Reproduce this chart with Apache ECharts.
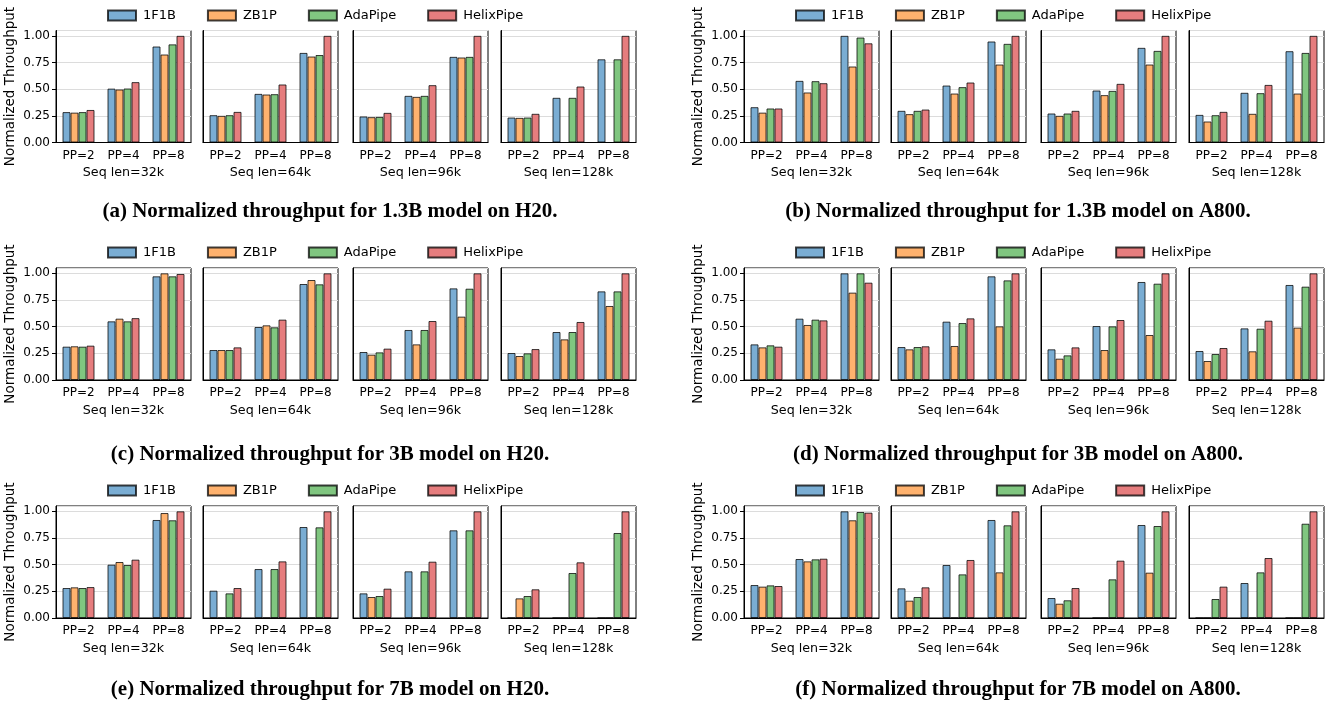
<!DOCTYPE html>
<html>
<head>
<meta charset="utf-8">
<script src="https://cdn.jsdelivr.net/npm/echarts@6/dist/echarts.min.js"></script>
<style>
  html, body { margin: 0; padding: 0; background: #fff; }
  #chart { width: 1339px; height: 709px; }
</style>
</head>
<body>
<div id="chart"></div>
<script>
const categories = ['PP=2', 'PP=4', 'PP=8']
const seqLens = ['Seq len=32k', 'Seq len=64k', 'Seq len=96k', 'Seq len=128k']
const methods = ['1F1B', 'ZB1P', 'AdaPipe', 'HelixPipe']
const yTicks = [0, 0.25, 0.5, 0.75, 1.0]
const captions = [
  '(a) Normalized throughput for 1.3B model on H20.',
  '(b) Normalized throughput for 1.3B model on A800.',
  '(c) Normalized throughput for 3B model on H20.',
  '(d) Normalized throughput for 3B model on A800.',
  '(e) Normalized throughput for 7B model on H20.',
  '(f) Normalized throughput for 7B model on A800.'
]

// each panel: [seq len][method][PP]
const h20_1_3b = [
  [[0.285, 0.505, 0.90], [0.28, 0.497, 0.825], [0.285, 0.506, 0.92], [0.305, 0.566, 1.0]],
  [[0.256, 0.456, 0.84], [0.25, 0.45, 0.806], [0.256, 0.453, 0.82], [0.287, 0.544, 1.0]],
  [[0.244, 0.4375, 0.803], [0.2375, 0.428, 0.797], [0.24, 0.4375, 0.803], [0.278, 0.5375, 1.0]],
  [[0.234, 0.419, 0.78], [0.231, 0, 0], [0.234, 0.419, 0.78], [0.269, 0.525, 1.0]]
]
const a800_1_3b = [
  [[0.331, 0.578, 1.0], [0.28, 0.469, 0.7125], [0.319, 0.575, 0.984], [0.319, 0.556, 0.93]],
  [[0.297, 0.534, 0.947], [0.266, 0.459, 0.731], [0.297, 0.519, 0.925], [0.309, 0.5625, 1.0]],
  [[0.272, 0.4875, 0.8875], [0.25, 0.444, 0.731], [0.272, 0.484, 0.859], [0.297, 0.55, 1.0]],
  [[0.259, 0.466, 0.856], [0.197, 0.269, 0.459], [0.256, 0.4625, 0.84], [0.2875, 0.54, 1.0]]
]
const h20_3b = [
  [[0.3125, 0.55, 0.972], [0.316, 0.575, 1.0], [0.3125, 0.55, 0.972], [0.322, 0.58, 0.994]],
  [[0.281, 0.497, 0.9], [0.281, 0.5125, 0.9375], [0.281, 0.494, 0.897], [0.306, 0.566, 1.0]],
  [[0.2625, 0.469, 0.859], [0.2375, 0.334, 0.594], [0.259, 0.469, 0.856], [0.294, 0.553, 1.0]],
  [[0.253, 0.45, 0.831], [0.225, 0.381, 0.694], [0.25, 0.45, 0.831], [0.29, 0.544, 1.0]]
]
const a800_3b = [
  [[0.334, 0.575, 1.0], [0.306, 0.516, 0.819], [0.325, 0.566, 1.0], [0.3125, 0.559, 0.9125]],
  [[0.309, 0.547, 0.972], [0.2875, 0.319, 0.503], [0.309, 0.534, 0.934], [0.316, 0.578, 1.0]],
  [[0.2875, 0.506, 0.919], [0.2, 0.281, 0.422], [0.231, 0.503, 0.903], [0.306, 0.5625, 1.0]],
  [[0.272, 0.484, 0.891], [0.178, 0.269, 0.491], [0.244, 0.481, 0.875], [0.3, 0.556, 1.0]]
]
const h20_7b = [
  [[0.281, 0.5, 0.919], [0.2875, 0.525, 0.984], [0.281, 0.497, 0.916], [0.29, 0.547, 1.0]],
  [[0.256, 0.459, 0.853], [0, 0, 0], [0.231, 0.459, 0.85], [0.281, 0.531, 1.0]],
  [[0.231, 0.4375, 0.822], [0.197, 0, 0], [0.206, 0.4375, 0.822], [0.275, 0.528, 1.0]],
  [[0, 0, 0], [0.184, 0, 0], [0.206, 0.422, 0.797], [0.269, 0.522, 1.0]]
]
const a800_7b = [
  [[0.309, 0.553, 1.0], [0.294, 0.531, 0.916], [0.306, 0.55, 0.994], [0.3, 0.556, 0.9875]],
  [[0.278, 0.497, 0.919], [0.1625, 0, 0.428], [0.197, 0.409, 0.869], [0.2875, 0.544, 1.0]],
  [[0.1875, 0, 0.872], [0.134, 0, 0.425], [0.166, 0.3625, 0.8625], [0.281, 0.5375, 1.0]],
  [[0, 0.328, 0], [0, 0, 0], [0.178, 0.428, 0.884], [0.294, 0.5625, 1.0]]
]
const panels = [h20_1_3b, a800_1_3b, h20_3b, a800_3b, h20_7b, a800_7b]

const colors = ['#7aadd3', '#ffb26e', '#80c680', '#e67d7e']
const panelX = [0, 688]
const subLeft = [56, 203, 353, 501]
const subWidth = 135
const rowTop = [30.5, 268, 506]
const subHeight = 112
const legendY = [9, 246, 484]
const captionY = [212, 455, 690]

const chart = echarts.init(document.getElementById('chart'))

const grid = []
const xAxis = []
const yAxis = []
const series = []
const legend = []
const graphic = []

panels.forEach((panel, p) => {
  const col = p % 2
  const row = Math.floor(p / 2)
  const ox = panelX[col]
  legend.push({
    data: methods,
    icon: 'rect',
    left: ox + 107,
    top: legendY[row],
    padding: 0,
    itemWidth: 28,
    itemHeight: 10,
    itemGap: 31,
    textStyle: { fontFamily: 'DejaVu Sans', fontSize: 13, color: '#000', padding: [0, 0, 0, 2] }
  })
  graphic.push({
    type: 'text',
    x: ox + 330,
    y: captionY[row],
    style: {
      text: captions[p],
      font: 'bold 21px "Liberation Serif"',
      fill: '#000',
      align: 'center',
      verticalAlign: 'middle'
    }
  })
  panel.forEach((seq, s) => {
    const gi = grid.length
    grid.push({
      left: ox + subLeft[s],
      top: rowTop[row],
      width: subWidth,
      height: subHeight,
      show: true,
      borderColor: '#000',
      borderWidth: 1
    })
    xAxis.push({
      type: 'category',
      gridIndex: gi,
      data: categories,
      name: seqLens[s],
      nameLocation: 'middle',
      nameGap: 24,
      nameTextStyle: { fontFamily: 'DejaVu Sans', fontSize: 12.7, color: '#000' },
      axisLine: { lineStyle: { color: '#000' } },
      axisTick: { alignWithLabel: true, length: 4, lineStyle: { color: '#000' } },
      axisLabel: { fontFamily: 'DejaVu Sans', fontSize: 12, color: '#000', margin: 7 }
    })
    const first = s === 0
    yAxis.push({
      type: 'value',
      gridIndex: gi,
      min: 0,
      max: 1.05,
      interval: 0.25,
      name: first ? 'Normalized Throughput' : '',
      nameLocation: 'middle',
      nameGap: 39,
      nameTextStyle: { fontFamily: 'DejaVu Sans', fontSize: 13.5, color: '#000' },
      axisLine: { show: true, lineStyle: { color: '#000' } },
      axisTick: { show: first, length: 4, lineStyle: { color: '#000' } },
      axisLabel: {
        show: first,
        showMaxLabel: false,
        fontFamily: 'DejaVu Sans',
        fontSize: 12,
        color: '#000',
        margin: 6,
        formatter: v => (yTicks.includes(v) ? v.toFixed(2) : '')
      },
      splitLine: { show: true, lineStyle: { color: '#dcdcdc', width: 1 } }
    })
    seq.forEach((vals, m) => {
      series.push({
        type: 'bar',
        name: methods[m],
        xAxisIndex: gi,
        yAxisIndex: gi,
        data: vals,
        barWidth: 8,
        barGap: '0%',
        itemStyle: { color: colors[m], borderColor: 'rgba(0,0,0,0.75)', borderWidth: 1 },
        emphasis: { disabled: true },
        animation: false
      })
    })
  })
})

chart.setOption({
  animation: false,
  grid,
  xAxis,
  yAxis,
  legend,
  graphic,
  series
})
</script>
</body>
</html>
